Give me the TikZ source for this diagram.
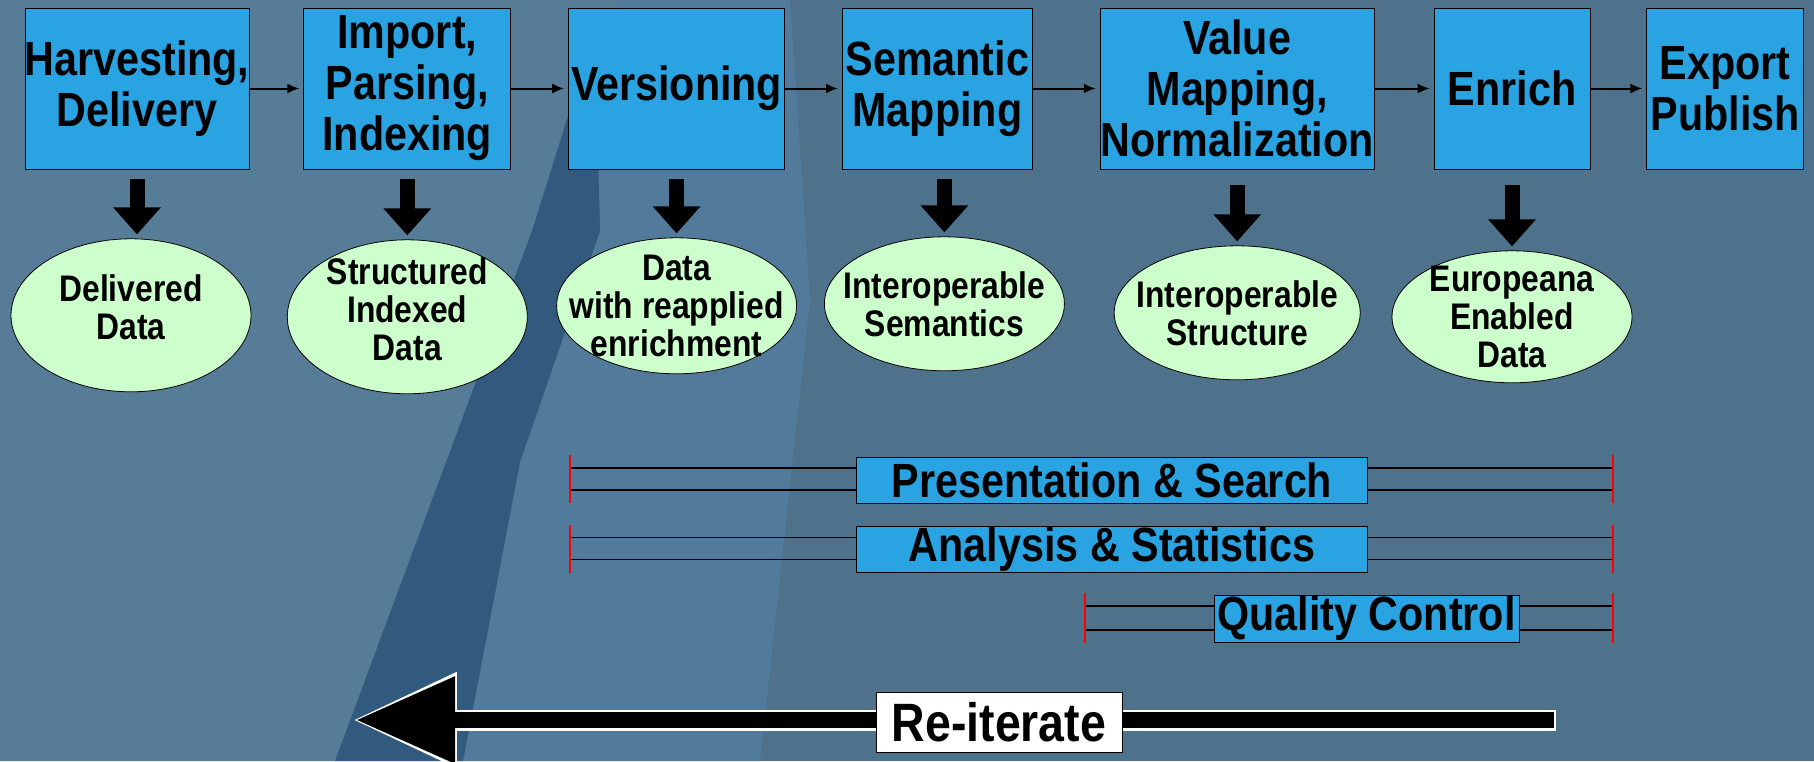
\documentclass[tikz,border=0pt]{standalone}
\usepackage{fontspec}
\setmainfont{Liberation Sans}[FakeStretch=0.86]
\usetikzlibrary{positioning,shapes,arrows.meta}
\definecolor{stageblue}{RGB}{41,163,225}
\definecolor{resultgreen}{RGB}{204,255,204}
\definecolor{bgleft}{RGB}{86,124,152}
\definecolor{bgright}{RGB}{78,114,140}
\definecolor{bgdark}{RGB}{50,90,126}
\definecolor{bglight}{RGB}{82,122,154}
\tikzstyle{stage}=[draw,fill=stageblue,minimum height=80.5pt,inner sep=-10pt,align=center,font=\fontsize{24}{25.5}\selectfont\bfseries]
\tikzstyle{result}=[draw,ellipse,fill=resultgreen,minimum width=120pt,minimum height=67pt,inner sep=-20pt,align=center,font=\fontsize{18.5}{19}\selectfont\bfseries]
\tikzstyle{arr}=[-{Latex[length=6pt,width=5pt]},line width=1pt,shorten >=2pt]
\tikzstyle{fat}=[-{Triangle[length=13.5pt,width=23pt]},line width=7.5pt,shorten >=2pt]
\tikzstyle{bar}=[draw,fill=stageblue,minimum height=23pt,inner sep=-5pt,font=\fontsize{24}{25}\selectfont\bfseries]
\tikzstyle{rail}=[line width=0.9pt]
\tikzstyle{endmark}=[red,line width=0.8pt]
\tikzstyle{backrim}=[white,line width=10.5pt,-{Triangle[length=52pt,width=45pt]},shorten >=-1.6pt,shorten <=-1pt]
\tikzstyle{back}=[black,line width=8pt,-{Triangle[length=49.5pt,width=41.5pt]}]
\tikzstyle{again}=[draw,fill=white,minimum width=123pt,minimum height=30pt,inner sep=0pt,font=\fontsize{27}{28}\selectfont\bfseries]

\begin{document}
\begin{tikzpicture}[x=0.5pt,y=-0.5pt]
  \useasboundingbox (0,0) rectangle (1814,761);
  % background
  \fill[bgright] (0,0) rectangle (1814,761);
  \fill[bgleft] (0,0) -- (620,0) -- (595,30) -- (532,231) -- (335,761) -- (0,761) -- cycle;
  \fill[bglight] (620,0) -- (790,0) -- (810,300) -- (760,761) -- (463,761) -- (520,462) -- (600,231) -- (595,30) -- cycle;
  \fill[bgdark] (595,30) -- (600,231) -- (520,462) -- (463,761) -- (335,761) -- (532,231) -- cycle;

  % stages
  \node (S1) [stage,minimum width=112pt] at (137,88.5) {Harvesting,\\Delivery};
  \node (S2) [stage,minimum width=103.5pt,right=27pt of S1] {Import,\\Parsing,\\Indexing};
  \node (S3) [stage,minimum width=108pt,right=28.5pt of S2] {Versioning};
  \node (S4) [stage,minimum width=95pt,right=28.5pt of S3] {Semantic\\Mapping};
  \node (S5) [stage,minimum width=137pt,right=33.5pt of S4] {Value\\Mapping,\\Normalization};
  \node (S6) [stage,minimum width=78pt,right=29.5pt of S5] {Enrich};
  \node (S7) [stage,minimum width=78.5pt,right=28pt of S6] {Export\\Publish};

  \draw[arr] (S1.east) -- (S2.west);
  \draw[arr] (S2.east) -- (S3.west);
  \draw[arr] (S3.east) -- (S4.west);
  \draw[arr] (S4.east) -- (S5.west);
  \draw[arr] (S5.east) -- (S6.west);
  \draw[arr] (S6.east) -- (S7.west);

  % results
  \node (R1) [result,minimum height=76.5pt,text depth=8pt,below=34.5pt of S1,xshift=-3pt] {Delivered\\Data};
  \node (R2) [result,minimum height=77pt,text depth=8pt,below=35pt of S2] {Structured\\Indexed\\Data};
  \node (R3) [result,minimum height=68pt,below=34pt of S3] {Data\\with reapplied\\enrichment};
  \node (R4) [result,below=33.5pt of S4,xshift=3.5pt] {Interoperable\\Semantics};
  \node (R5) [result,minimum width=123pt,below=38pt of S5] {Interoperable\\Structure};
  \node (R6) [result,minimum height=66pt,below=40.5pt of S6] {Europeana\\Enabled\\Data};

  \draw[fat] ([yshift=-5pt]S1.south) -- (S1.south |- R1.north);
  \draw[fat] ([yshift=-5pt]S2.south) -- (S2.south |- R2.north);
  \draw[fat] ([yshift=-5pt]S3.south) -- (S3.south |- R3.north);
  \draw[fat] ([yshift=-5pt]R4.north |- S4.south) -- (R4.north);
  \draw[fat] ([yshift=-8pt]S5.south) -- (S5.south |- R5.north);
  \draw[fat] ([yshift=-8pt]S6.south) -- (S6.south |- R6.north);

  % bars
  \coordinate (Pl) at (570,479);
  \coordinate (Pr) at (1613,479);
  \draw[rail] ([yshift=5.5pt]Pl) -- ([yshift=5.5pt]Pr);
  \draw[rail] ([yshift=-5.5pt]Pl) -- ([yshift=-5.5pt]Pr);
  \draw[endmark] ([yshift=12pt]Pl) -- ([yshift=-12pt]Pl);
  \draw[endmark] ([yshift=12pt]Pr) -- ([yshift=-12pt]Pr);
  \node (P) [bar,minimum width=255.5pt] at (1112,480) {Presentation \& Search};

  \coordinate (Al) at (570,548.5);
  \coordinate (Ar) at (1613,548.5);
  \draw[rail] ([yshift=5.5pt]Al) -- ([yshift=5.5pt]Ar);
  \draw[rail] ([yshift=-5.5pt]Al) -- ([yshift=-5.5pt]Ar);
  \draw[endmark] ([yshift=12pt]Al) -- ([yshift=-12pt]Al);
  \draw[endmark] ([yshift=12pt]Ar) -- ([yshift=-12pt]Ar);
  \node (A) [bar,minimum width=255.5pt] at (1112,549) {Analysis \& Statistics};

  \coordinate (Ql) at (1085,618);
  \coordinate (Qr) at (1613,618);
  \draw[rail] ([yshift=6pt]Ql) -- ([yshift=6pt]Qr);
  \draw[rail] ([yshift=-6pt]Ql) -- ([yshift=-6pt]Qr);
  \draw[endmark] ([yshift=12.5pt]Ql) -- ([yshift=-12.5pt]Ql);
  \draw[endmark] ([yshift=12.5pt]Qr) -- ([yshift=-12.5pt]Qr);
  \node (Q) [bar,minimum width=152.5pt,minimum height=23.5pt] at (1366.5,618.5) {Quality Control};

  % loop back
  \coordinate (Rs) at (1554,720);
  \coordinate (Re) at (356,720);
  \draw[backrim] (Rs) -- (Re);
  \draw[back] (Rs) -- (Re);
  \node (RI) [again] at (999,722) {Re-iterate};
\end{tikzpicture}
\end{document}
